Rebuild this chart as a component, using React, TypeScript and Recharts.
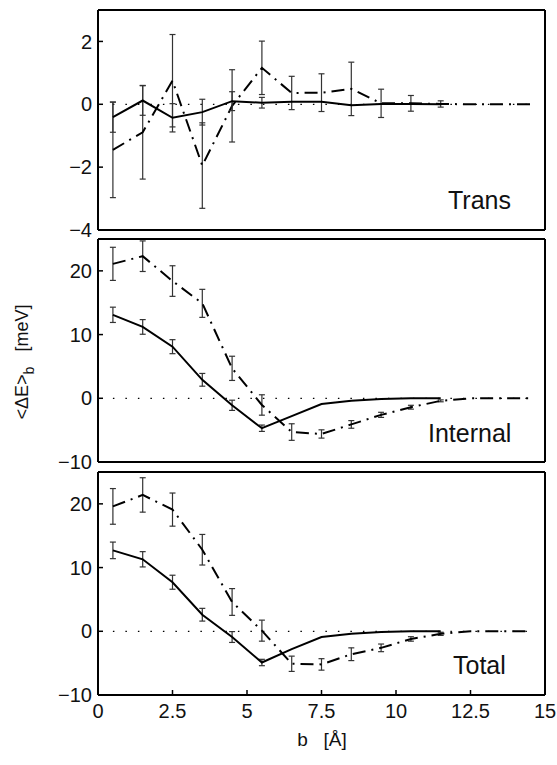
import React from 'react';
import { LineChart, Line, XAxis, YAxis, ErrorBar } from 'recharts';

// impact parameter b (Å)
const B = [0.5, 1.5, 2.5, 3.5, 4.5, 5.5, 6.5, 7.5, 8.5, 9.5, 10.5, 11.5];
const B_EXT = [0.5, 1.5, 2.5, 3.5, 4.5, 5.5, 6.5, 7.5, 8.5, 9.5, 10.5, 11.5, 12.5, 13.5, 14.5];
const X_TICKS = [0, 2.5, 5, 7.5, 10, 12.5, 15];

// Trans
const TRANS_SOLID = [-0.41, 0.12, -0.43, -0.25, 0.1, 0.05, 0.08, 0.08, -0.03, 0.01, 0.01, 0.0];
const TRANS_SOLID_ERR = [0.48, 0.47, 0.45, 0.41, 0.3, 0.17, 0, 0, 0, 0, 0, 0];
const TRANS_DASH = [-1.45, -0.89, 0.75, -1.95, -0.05, 1.16, 0.36, 0.37, 0.49, 0.03, 0.03, 0.01, 0, 0, 0];
const TRANS_DASH_ERR = [1.52, 1.49, 1.47, 1.36, 1.15, 0.85, 0.53, 0.6, 0.85, 0.45, 0.25, 0.1, 0, 0, 0];

// Internal
const INT_SOLID = [13.1, 11.2, 8.1, 2.9, -1.1, -4.7, -2.8, -0.9, -0.4, -0.1, 0, 0];
const INT_SOLID_ERR = [1.2, 1.15, 1.1, 1.0, 0.8, 0.5, 0, 0, 0, 0, 0, 0];
const INT_DASH = [21.1, 22.3, 18.4, 14.9, 4.7, -1.05, -5.3, -5.6, -4.1, -2.6, -1.4, -0.4, 0, 0, 0];
const INT_DASH_ERR = [2.6, 2.4, 2.4, 2.2, 1.9, 1.6, 1.3, 0.65, 0.6, 0.4, 0.3, 0.15, 0, 0, 0];

// Total
const TOT_SOLID = [12.7, 11.3, 7.7, 2.6, -0.9, -4.9, -2.8, -0.9, -0.4, -0.1, 0, 0];
const TOT_SOLID_ERR = [1.3, 1.2, 1.1, 1.0, 0.85, 0.5, 0, 0, 0, 0, 0, 0];
const TOT_DASH = [19.6, 21.4, 19.1, 12.8, 4.6, 0.1, -5.1, -5.2, -3.6, -2.6, -1.2, -0.4, 0, 0, 0];
const TOT_DASH_ERR = [2.8, 2.7, 2.6, 2.4, 2.1, 1.65, 1.2, 0.9, 1.0, 0.6, 0.35, 0.25, 0, 0, 0];

const ZERO = [
  { b: 0.5, v: 0 },
  { b: 14.5, v: 0 },
];

const FONT = '"Liberation Sans", Arial, Helvetica, sans-serif';
const TICK_STYLE = { fontSize: 20, fill: '#111', fontFamily: FONT };
const AXIS_LINE = { stroke: '#000', strokeWidth: 2 };
const TICK_LINE = { stroke: '#000', strokeWidth: 1.5 };

const fmt = (v: number) => (v < 0 ? `\u2212${Math.abs(v)}` : String(v));

function series(xs: number[], ys: number[], es: number[]) {
  return xs.map((b, i) => ({ b, v: ys[i], e: es[i] }));
}

type PanelProps = {
  top: number;
  plotHeight: number;
  domain: [number, number];
  ticks: number[];
  solid: { b: number; v: number; e: number }[];
  dash: { b: number; v: number; e: number }[];
  last?: boolean;
};

function Panel({ top, plotHeight, domain, ticks, solid, dash, last }: PanelProps) {
  const bottomH = last ? 40 : 1;
  const bottomM = last ? 5 : 16;
  const height = 10 + plotHeight + bottomH + bottomM;
  return (
    <div style={{ position: 'absolute', left: 0, top: top - 10 }}>
      <LineChart width={557} height={height} margin={{ top: 9, right: 11, left: 38, bottom: bottomM }}>
        <XAxis
          xAxisId="bot"
          type="number"
          dataKey="b"
          domain={[0, 15]}
          ticks={X_TICKS}
          interval={0}
          orientation="bottom"
          height={bottomH}
          tickSize={-5}
          tickMargin={14}
          tick={last ? TICK_STYLE : false}
          tickFormatter={fmt}
          axisLine={AXIS_LINE}
          tickLine={TICK_LINE}
          allowDataOverflow
        />
        <XAxis
          xAxisId="top"
          type="number"
          dataKey="b"
          domain={[0, 15]}
          ticks={X_TICKS}
          interval={0}
          orientation="top"
          height={1}
          tickSize={-5}
          tick={false}
          axisLine={AXIS_LINE}
          tickLine={TICK_LINE}
        />
        <YAxis
          yAxisId="l"
          type="number"
          domain={domain}
          ticks={ticks}
          interval={0}
          width={60}
          tickSize={-5}
          tickMargin={11}
          tick={TICK_STYLE}
          tickFormatter={fmt}
          axisLine={AXIS_LINE}
          tickLine={TICK_LINE}
          allowDataOverflow
        />
        <YAxis
          yAxisId="r"
          orientation="right"
          type="number"
          domain={domain}
          ticks={ticks}
          interval={0}
          width={1}
          tickSize={-5}
          tick={false}
          axisLine={AXIS_LINE}
          tickLine={TICK_LINE}
        />
        <Line
          xAxisId="bot"
          yAxisId="l"
          data={ZERO}
          dataKey="v"
          stroke="#000"
          strokeWidth={1.2}
          strokeDasharray="1.5 11"
          dot={false}
          isAnimationActive={false}
        />
        <Line
          xAxisId="bot"
          yAxisId="l"
          data={dash}
          dataKey="v"
          stroke="#000"
          strokeWidth={2}
          strokeDasharray="13 6 2 6"
          dot={false}
          isAnimationActive={false}
        >
          <ErrorBar dataKey="e" width={3} stroke="#333" strokeWidth={1.2} direction="y" />
        </Line>
        <Line
          xAxisId="bot"
          yAxisId="l"
          data={solid}
          dataKey="v"
          stroke="#000"
          strokeWidth={2}
          dot={false}
          isAnimationActive={false}
        >
          <ErrorBar dataKey="e" width={3} stroke="#333" strokeWidth={1.2} direction="y" />
        </Line>
      </LineChart>
    </div>
  );
}

export default function App() {
  return (
    <div
      style={{
        position: 'absolute',
        left: 0,
        top: 0,
        width: 557,
        height: 765,
        background: '#fff',
        fontFamily: FONT,
      }}
    >
      <Panel
        top={10}
        plotHeight={220}
        domain={[-4, 3]}
        ticks={[-4, -2, 0, 2]}
        solid={series(B, TRANS_SOLID, TRANS_SOLID_ERR)}
        dash={series(B_EXT, TRANS_DASH, TRANS_DASH_ERR)}
      />
      <Panel
        top={239}
        plotHeight={223}
        domain={[-10, 25]}
        ticks={[-10, 0, 10, 20]}
        solid={series(B, INT_SOLID, INT_SOLID_ERR)}
        dash={series(B_EXT, INT_DASH, INT_DASH_ERR)}
      />
      <Panel
        top={472}
        plotHeight={223}
        domain={[-10, 25]}
        ticks={[-10, 0, 10, 20]}
        solid={series(B, TOT_SOLID, TOT_SOLID_ERR)}
        dash={series(B_EXT, TOT_DASH, TOT_DASH_ERR)}
        last
      />
      <svg
        width={557}
        height={765}
        style={{ position: 'absolute', left: 0, top: 0, pointerEvents: 'none' }}
      >
        <g fontFamily={FONT} fill="#111">
          <text x={448} y={209} fontSize={25}>Trans</text>
          <text x={428} y={442} fontSize={25}>Internal</text>
          <text x={453} y={674} fontSize={25}>Total</text>
          <text x={322} y={746} fontSize={19} textAnchor="middle" style={{ whiteSpace: 'pre' }}>
            {'b   [Å]'}
          </text>
          <text
            transform="translate(28,362) rotate(-90)"
            fontSize={18}
            textAnchor="middle"
            style={{ whiteSpace: 'pre' }}
          >
            {'<ΔE>'}
            <tspan fontSize={14} dy={6}>b</tspan>
            <tspan dy={-6}>{'   [meV]'}</tspan>
          </text>
        </g>
      </svg>
    </div>
  );
}
